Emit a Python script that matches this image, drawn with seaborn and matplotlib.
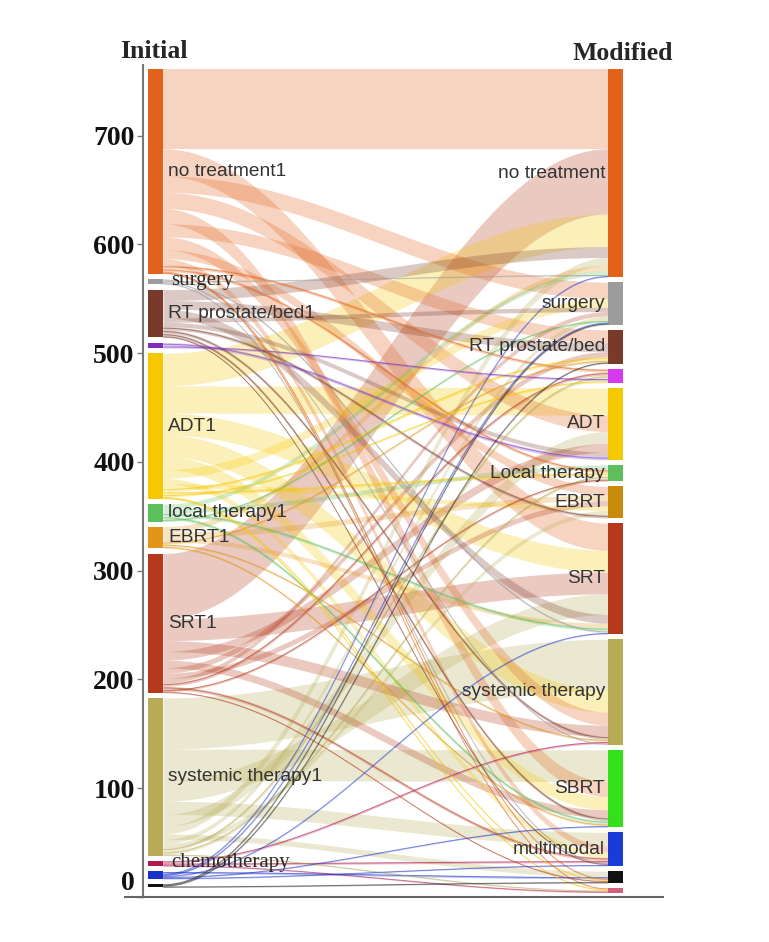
import numpy as np
import matplotlib
matplotlib.use("Agg")
import matplotlib.pyplot as plt
from matplotlib.transforms import ScaledTranslation
import seaborn as sns

# ---------------- data ----------------
initial_labels = ["no treatment1", "surgery", "RT prostate/bed1", "", "ADT1",
                  "local therapy1", "EBRT1", "SRT1", "systemic therapy1",
                  "chemotherapy", "", ""]
initial_serif = [False, True, False, False, False, False, False, False, False,
                 True, False, False]
initial_colors = ["#E2621B", "#9C9C9C", "#7A3A2A", "#7A2FC0", "#F5C800",
                  "#5CBF5C", "#E3951A", "#B5391A", "#B7AC55", "#B0174A",
                  "#1B32C8", "#111111"]

modified_labels = ["no treatment", "surgery", "RT prostate/bed", "", "ADT",
                   "Local therapy", "EBRT", "SRT", "systemic therapy", "SBRT",
                   "multimodal", "", ""]
modified_colors = ["#E2621B", "#9C9C9C", "#7A3A2A", "#D63AF0", "#F5C800",
                   "#5CBF5C", "#C98C0A", "#B5391A", "#B7AC55", "#33E01A",
                   "#1A3CD6", "#111111", "#D06080"]

# flows from each initial category to modified categories (order as modified_labels)
flow_no_treatment1 = [73, 15, 12, 3, 15, 3, 8, 25, 12, 14, 6, 1, 1]
flow_surgery1      = [1, 0, 0, 0, 0, 0, 0, 2, 1, 0, 1, 0, 0]
flow_rt1           = [10, 4, 8, 0, 4, 0, 3, 8, 3, 3, 1, 0, 0]
flow_purple1       = [0, 0, 0, 2, 3, 0, 0, 0, 0, 0, 0, 0, 0]
flow_adt1          = [30, 8, 3, 2, 25, 3, 4, 20, 20, 12, 5, 1, 1]
flow_local1        = [4, 2, 0, 0, 0, 4, 0, 3, 0, 3, 0, 0, 0]
flow_ebrt1         = [5, 0, 2, 0, 0, 0, 5, 4, 2, 2, 0, 0, 0]
flow_srt1          = [60, 4, 5, 3, 8, 2, 5, 20, 10, 7, 3, 1, 0]
flow_systemic1     = [7, 4, 0, 3, 11, 3, 4, 19, 47, 29, 12, 5, 1]
flow_chemo1        = [0, 0, 0, 0, 0, 0, 0, 0, 2, 0, 2, 0, 1]
flow_blue1         = [1, 1, 0, 0, 0, 0, 0, 1, 0, 1, 1, 2, 0]
flow_black1        = [0, 1, 1, 0, 0, 0, 0, 0, 0, 0, 0, 1, 0]

y_ticks = [0, 100, 200, 300, 400, 500, 600, 700]

# ---------------- layout ----------------
flows = np.array([flow_no_treatment1, flow_surgery1, flow_rt1, flow_purple1,
                  flow_adt1, flow_local1, flow_ebrt1, flow_srt1, flow_systemic1,
                  flow_chemo1, flow_blue1, flow_black1], dtype=float)
n_src, n_tgt = flows.shape
left_tot = flows.sum(axis=1)
right_tot = flows.sum(axis=0)

TOP = 761.0
GAP = 4.75
BW = 15 / 460.0
XL, XR = 1.0, 2.0


def stack(totals):
    tops, bots = [], []
    y = TOP
    for t in totals:
        tops.append(y)
        bots.append(y - t)
        y = y - t - GAP
    return np.array(tops), np.array(bots)


ltop, lbot = stack(left_tot)
rtop, rbot = stack(right_tot)

# lode positions: inside each stratum, larger flows are stacked first
left_pos = {}
for i in range(n_src):
    cur = ltop[i]
    for j in sorted(range(n_tgt), key=lambda j: (-flows[i, j], j)):
        if flows[i, j] > 0:
            left_pos[(i, j)] = cur
            cur -= flows[i, j]
right_pos = {}
for j in range(n_tgt):
    cur = rtop[j]
    for i in sorted(range(n_src), key=lambda i: (-flows[i, j], i)):
        if flows[i, j] > 0:
            right_pos[(i, j)] = cur
            cur -= flows[i, j]

sns.set_theme(style="white")
fig = plt.figure(figsize=(7.69, 9.42), dpi=100)
W, H = 769, 942
ax = fig.add_axes([125 / W, 1 - 897 / H, (663 - 125) / W, (897 - 65) / H])
ax.set_xlim(1 - 30.5 / 460, 2 + 47.5 / 460)
ax.set_ylim(0, 765)

# flows
x = np.linspace(XL + BW / 2, XR - BW / 2, 150)
t = (x - x[0]) / (x[-1] - x[0])
s = (1 - np.cos(np.pi * t)) / 2
items = sorted(left_pos.keys(), key=lambda k: -flows[k])
for (i, j) in items:
    v = flows[i, j]
    lt = left_pos[(i, j)]
    rt = right_pos[(i, j)]
    top = lt + (rt - lt) * s
    bot = top - v
    col = initial_colors[i]
    ax.fill_between(x, bot, top, color=col, alpha=0.27, lw=0)
    if v <= 3:
        ax.plot(x, top - v / 2, color=col, alpha=0.55, lw=0.7)

# strata bars
ax.bar([XL] * n_src, left_tot, bottom=lbot, width=BW,
       color=initial_colors, linewidth=0)
ax.bar([XR] * n_tgt, right_tot, bottom=rbot, width=BW,
       color=modified_colors, linewidth=0)

# labels
for k, lab in enumerate(initial_labels):
    if not lab:
        continue
    yc = (ltop[k] + lbot[k]) / 2
    if initial_serif[k]:
        ax.text(XL + BW / 2 + 8 / 460, yc + 1, lab, ha="left", va="center",
                fontsize=15, family="Liberation Serif", color="#2a2a2a")
    else:
        ax.text(XL + BW / 2 + 5 / 460, yc, lab, ha="left", va="center",
                fontsize=13.8, family="Liberation Sans", color="#333333")
for k, lab in enumerate(modified_labels):
    if not lab:
        continue
    yc = (rtop[k] + rbot[k]) / 2
    ax.text(XR - BW / 2 - 3 / 460, yc, lab, ha="right", va="center",
            fontsize=13.8, family="Liberation Sans", color="#333333")

ax.text(XL - 2 / 460, 777, "Initial", ha="center", va="center", fontsize=18.5,
        family="Liberation Serif", fontweight="bold", clip_on=False)
ax.text(XR + 7 / 460, 776, "Modified", ha="center", va="center", fontsize=18.5,
        family="Liberation Serif", fontweight="bold", clip_on=False)

# axes styling (spine positions first: they reset the ticks)
for side in ["top", "right"]:
    ax.spines[side].set_visible(False)
ax.spines["left"].set_position(("data", 1 - 12.5 / 460))
ax.spines["left"].set_color("#777777")
ax.spines["left"].set_linewidth(1.5)
ax.spines["bottom"].set_color("#666666")
ax.spines["bottom"].set_linewidth(1.5)
ax.grid(False)

ax.set_xticks([])
ax.set_yticks(y_ticks)
ax.set_yticklabels([str(v) for v in y_ticks])
ax.tick_params(axis="y", left=True, length=4, width=1, color="#777777", pad=2,
               labelsize=20, labelcolor="#111111",
               labelfontfamily="Liberation Serif")
for lab in ax.get_yticklabels():
    lab.set_fontweight("bold")
    if lab.get_text() == "0":
        lab.set_transform(lab.get_transform() +
                          ScaledTranslation(0, 16 / 100, fig.dpi_scale_trans))

fig.savefig("out.png", dpi=100)
